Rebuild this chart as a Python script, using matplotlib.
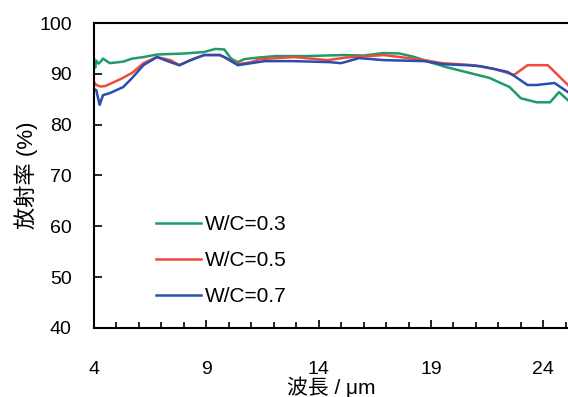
import matplotlib
matplotlib.use('Agg')
import matplotlib.pyplot as plt
from matplotlib.ticker import MultipleLocator

plt.rcParams['font.family'] = ['Liberation Sans', 'Noto Sans CJK JP', 'DejaVu Sans']

# wavelength (um) and emissivity (%)
wl_03 = [4.0, 4.05, 4.1, 4.2, 4.3, 4.4, 4.7, 5.3, 5.7, 6.2, 6.8, 7.4, 8.0, 8.9, 9.4, 9.8,
         10.1, 10.4, 10.7, 11.3, 12.1, 13.5, 15.1, 16.0, 16.9, 17.6, 18.2, 19.1, 19.7,
         20.7, 21.6, 22.5, 23.0, 23.7, 24.3, 24.7, 25.1]
em_03 = [93.0, 91.2, 92.6, 92.0, 92.4, 93.0, 92.1, 92.4, 93.0, 93.3, 93.8, 93.9, 94.0,
         94.3, 94.9, 94.8, 93.0, 92.3, 92.9, 93.2, 93.5, 93.5, 93.7, 93.6, 94.1, 94.0,
         93.4, 92.1, 91.3, 90.2, 89.2, 87.4, 85.2, 84.4, 84.4, 86.4, 84.8]

wl_05 = [4.0, 4.1, 4.3, 4.5, 4.8, 5.2, 5.7, 6.2, 6.8, 7.4, 7.8, 8.3, 8.9, 9.6, 9.8,
         10.4, 11.0, 11.4, 12.9, 14.4, 15.2, 16.9, 17.8, 18.7, 19.5, 20.9, 21.8, 22.4,
         22.7, 23.3, 24.2, 25.1]
em_05 = [88.4, 87.8, 87.5, 87.6, 88.2, 89.0, 90.2, 92.1, 93.3, 92.7, 91.7, 92.7, 93.7,
         93.7, 93.3, 91.9, 92.3, 92.9, 93.3, 92.7, 93.2, 93.7, 93.2, 92.7, 92.1, 91.7,
         91.0, 90.2, 89.8, 91.7, 91.7, 87.8]

wl_07 = [4.0, 4.1, 4.25, 4.4, 4.7, 5.3, 5.7, 6.2, 6.8, 7.4, 7.8, 8.3, 8.9, 9.6, 9.8,
         10.4, 11.0, 11.6, 12.9, 14.5, 15.0, 15.8, 16.9, 18.7, 19.5, 20.6, 21.2, 22.4,
         22.7, 23.3, 23.7, 24.5, 25.1]
em_07 = [87.0, 86.8, 83.9, 85.8, 86.2, 87.4, 89.2, 91.7, 93.3, 92.3, 91.7, 92.7, 93.7,
         93.7, 93.3, 91.7, 92.1, 92.5, 92.5, 92.3, 92.1, 93.1, 92.7, 92.5, 91.9, 91.7,
         91.5, 90.4, 89.6, 87.8, 87.8, 88.2, 86.4]

labels = ['W/C=0.3', 'W/C=0.5', 'W/C=0.7']
colors = ['#1f9a6c', '#ef4b3c', '#2a4db0']

fig = plt.figure(figsize=(5.68, 3.97), dpi=100)
ax = fig.add_axes([0.1655, 0.174, 0.8345, 0.768])

for x, y, lab, c in zip([wl_03, wl_05, wl_07], [em_03, em_05, em_07], labels, colors):
    ax.plot(x, y, color=c, lw=1.8, label=lab)

ax.set_xlim(4, 25.1)
ax.set_ylim(40, 100)
ax.set_xticks([4, 9, 14, 19, 24])
ax.xaxis.set_minor_locator(MultipleLocator(1))
ax.set_yticks(range(40, 101, 10))
ax.tick_params(direction='in', labelsize=14, width=1.2, length=6)
ax.tick_params(axis='x', pad=24)
ax.tick_params(axis='x', which='minor', direction='in', length=4, width=1.2)
ax.tick_params(axis='y', pad=16)
for s in ['left', 'bottom', 'top']:
    ax.spines[s].set_linewidth(1.5)
ax.spines['right'].set_visible(False)

ax.set_ylabel('放射率 (%)', fontsize=16, labelpad=1)
ax.set_xlabel('波長 / μm', fontsize=15, labelpad=-1)

ax.legend(loc='upper left', bbox_to_anchor=(0.108, 0.405), frameon=False, borderpad=0,
          fontsize=15, handlelength=2.2, labelspacing=0.82, handletextpad=0.15)

fig.savefig('out.png', dpi=100)
